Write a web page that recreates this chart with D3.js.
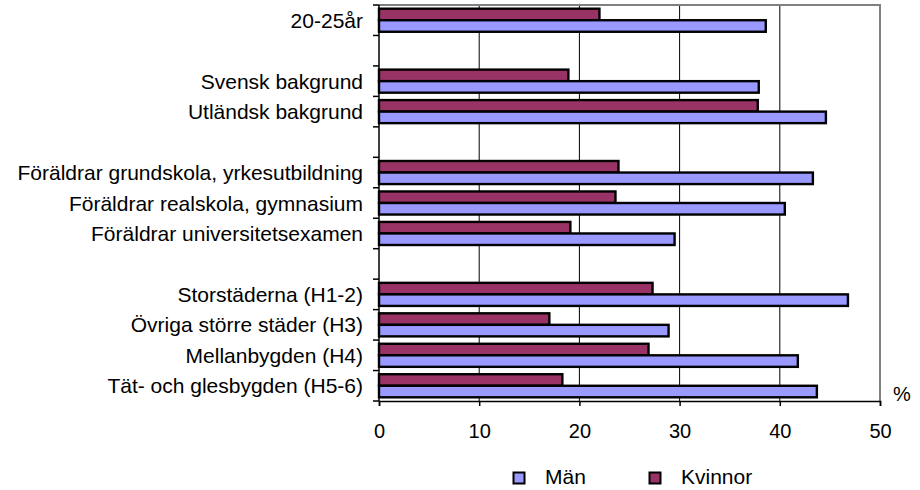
<!DOCTYPE html>
<html>
<head>
<meta charset="utf-8">
<script src="https://cdn.jsdelivr.net/npm/d3@7"></script>
<style>
  html, body { margin: 0; padding: 0; background: #fff; }
  svg { display: block; font-family: "Liberation Sans", Arial, sans-serif; }
</style>
</head>
<body>
<svg id="chart" width="920" height="490"></svg>
<script>
// Row labels from top to bottom; empty strings are spacer rows between groups
const categories = [
  "20-25år",
  "",
  "Svensk bakgrund",
  "Utländsk bakgrund",
  "",
  "Föräldrar grundskola, yrkesutbildning",
  "Föräldrar realskola, gymnasium",
  "Föräldrar universitetsexamen",
  "",
  "Storstäderna (H1-2)",
  "Övriga större städer (H3)",
  "Mellanbygden (H4)",
  "Tät- och glesbygden (H5-6)"
];
// Percentages per row (null for spacer rows)
const kvinnor = [22.0, null, 18.9, 37.8, null, 23.9, 23.6, 19.1, null, 27.3, 17.0, 26.9, 18.3];
const man     = [38.6, null, 37.9, 44.6, null, 43.3, 40.5, 29.5, null, 46.8, 28.9, 41.8, 43.7];
const xTicks = [0, 10, 20, 30, 40, 50];
const seriesNames = ["Män", "Kvinnor"];
const seriesColors = { "Män": "#9999FF", "Kvinnor": "#993366" };

const svg = d3.select("#chart");
const plotLeft = 379, plotRight = 880, plotTop = 5, plotBottom = 401;

const x = d3.scaleLinear().domain([0, 50]).range([plotLeft, plotRight]);
const rowIds = categories.map((_, i) => i);
const y = d3.scaleBand().domain(rowIds).range([plotTop, plotBottom]).padding(0);
// Within a row Kvinnor sits above Män
const inner = d3.scaleBand().domain(["Kvinnor", "Män"]).range([0, y.bandwidth()])
  .paddingInner(0).paddingOuter(0.32);

// Vertical gridlines
svg.append("g").selectAll("line")
  .data(xTicks.filter(t => t > 0 && t < 50))
  .join("line")
  .attr("x1", d => x(d)).attr("x2", d => x(d))
  .attr("y1", plotTop).attr("y2", plotBottom)
  .attr("stroke", "#000").attr("stroke-width", 1);

// Plot border (top and right)
svg.append("path")
  .attr("d", `M${plotLeft},${plotTop}H${plotRight}V${plotBottom}`)
  .attr("fill", "none").attr("stroke", "#808080").attr("stroke-width", 2);

// Bars
const rows = categories.map((c, i) => ({ i, k: kvinnor[i], m: man[i] }));
const bars = [];
rows.forEach(r => {
  if (r.k != null) bars.push({ row: r.i, s: "Kvinnor", v: r.k });
  if (r.m != null) bars.push({ row: r.i, s: "Män", v: r.m });
});
svg.append("g").selectAll("rect")
  .data(bars)
  .join("rect")
  .attr("x", x(0))
  .attr("y", d => y(d.row) + inner(d.s))
  .attr("width", d => x(d.v) - x(0))
  .attr("height", inner.bandwidth())
  .attr("fill", d => seriesColors[d.s])
  .attr("stroke", "#000").attr("stroke-width", 2.4);

// Left axis: line, ticks at row boundaries
const yAxis = svg.append("g");
yAxis.append("line")
  .attr("x1", plotLeft).attr("x2", plotLeft).attr("y1", plotTop).attr("y2", plotBottom)
  .attr("stroke", "#000").attr("stroke-width", 1.5);
yAxis.selectAll("line.tick")
  .data(d3.range(categories.length + 1))
  .join("line").attr("class", "tick")
  .attr("x1", plotLeft - 6).attr("x2", plotLeft)
  .attr("y1", i => plotTop + i * y.step()).attr("y2", i => plotTop + i * y.step())
  .attr("stroke", "#000").attr("stroke-width", 1.5);
yAxis.selectAll("text")
  .data(rows.filter(r => categories[r.i] !== ""))
  .join("text")
  .attr("x", 363)
  .attr("y", d => y(d.i) + y.bandwidth() / 2)
  .attr("dy", "0.36em")
  .attr("text-anchor", "end")
  .attr("font-size", 21)
  .attr("fill", "#000")
  .text(d => categories[d.i]);

// Bottom axis
const xAxis = svg.append("g").attr("transform", `translate(0,${plotBottom})`)
  .call(d3.axisBottom(x).tickValues(xTicks).tickSize(5).tickPadding(18).tickFormat(d3.format("d")));
xAxis.select(".domain").attr("stroke", "#000").attr("stroke-width", 1.5);
xAxis.selectAll(".tick line").attr("stroke", "#000").attr("stroke-width", 1.5);
xAxis.selectAll(".tick text")
  .attr("font-size", 20).attr("font-family", "Liberation Sans, Arial, sans-serif").attr("fill", "#000");

// Unit label
svg.append("text").attr("x", 893).attr("y", 401).attr("font-size", 20).text("%");

// Legend
const legendX = { "Män": 513, "Kvinnor": 649 };
const lg = svg.append("g").selectAll("g").data(seriesNames).join("g")
  .attr("transform", d => `translate(${legendX[d]},472)`);
lg.append("rect").attr("x", 0.5).attr("y", 0.5).attr("width", 11).attr("height", 11)
  .attr("fill", d => seriesColors[d]).attr("stroke", "#000").attr("stroke-width", 2);
lg.append("text").attr("x", 32).attr("y", 12).attr("font-size", 21).text(d => d);
</script>
</body>
</html>
